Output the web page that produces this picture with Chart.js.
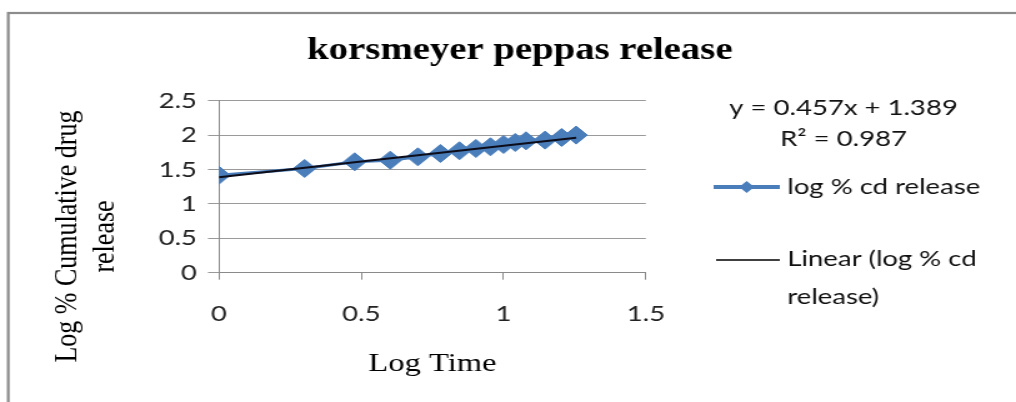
<!DOCTYPE html>
<html>
<head>
<meta charset="utf-8">
<script src="https://cdn.jsdelivr.net/npm/chart.js@4/dist/chart.umd.min.js"></script>
<style>
  html, body { margin: 0; padding: 0; background: #fff; overflow: hidden; }
  #wrap { width: 1016px; height: 402px; overflow: hidden; }
  /* the figure is drawn on a narrower canvas and widened horizontally */
  #c { display: block; transform-origin: 0 0; transform: scaleX(1.2497); }
</style>
</head>
<body>
<div id="wrap"><canvas id="c" width="813" height="402"></canvas></div>
<script>
// log(time) on x, log(% cumulative drug release) on y
const logTime = [0, 0.301, 0.477, 0.602, 0.699, 0.778, 0.845, 0.903, 0.954, 1.0, 1.041, 1.079, 1.146, 1.204, 1.255];
const logRelease = [1.417, 1.515, 1.612, 1.636, 1.684, 1.733, 1.772, 1.806, 1.83, 1.864, 1.893, 1.917, 1.927, 1.966, 2.0];

// axis tick values
const xTicks = [0, 0.5, 1, 1.5];
const yTicks = [0, 0.5, 1, 1.5, 2, 2.5];

// linear trend fitted to the series
const fitSlope = 0.457;
const fitIntercept = 1.389;
const fitR2 = 0.987;

const seriesName = 'log % cd release';
const trendName = ['Linear (log % cd', 'release)'];
const chartTitle = 'korsmeyer peppas release';
const xTitle = 'Log Time';
const yTitle = ['Log % Cumulative drug', 'release'];

const BLUE = '#4A7EBB';
const GRID = '#9a9a9a';
const AXIS = '#8a8a8a';
const SANS = 'Lato, "Open Sans", sans-serif';
const SERIF = '"Liberation Serif", "DejaVu Serif", serif';

const seriesPoints = logTime.map((x, i) => ({ x: x, y: logRelease[i] }));
const trendX = [logTime[0], logTime[logTime.length - 1]];
const trendPoints = trendX.map(x => ({ x: x, y: fitIntercept + fitSlope * x }));

// frame, y axis title, fit equation and legend
const extras = {
  id: 'extras',
  beforeDraw(chart) {
    const ctx = chart.ctx;
    ctx.save();
    ctx.fillStyle = '#fff';
    ctx.fillRect(0, 0, chart.width, chart.height);
    ctx.restore();
  },
  afterDraw(chart) {
    const ctx = chart.ctx;
    ctx.save();

    // outer frame
    ctx.strokeStyle = '#8c8c8c';
    ctx.lineWidth = 2.2;
    ctx.strokeRect(6.6, 13, chart.width + 20, chart.height + 20);

    // y axis title, two rotated lines
    ctx.fillStyle = '#000';
    ctx.font = '26px ' + SERIF;
    ctx.textAlign = 'center';
    ctx.textBaseline = 'middle';
    const yMid = 236.5;
    [54.5, 84.5].forEach((x, i) => {
      ctx.save();
      ctx.translate(x, yMid);
      ctx.rotate(-Math.PI / 2);
      ctx.fillText(yTitle[i], 0, 0);
      ctx.restore();
    });

    // fit equation
    ctx.font = '22px ' + SANS;
    ctx.fillStyle = '#111';
    ctx.textAlign = 'center';
    const sign = fitIntercept >= 0 ? '+ ' : '- ';
    ctx.fillText('y = ' + fitSlope.toFixed(3) + 'x ' + sign + Math.abs(fitIntercept).toFixed(3), 675, 108);
    ctx.fillText('R\u00B2 = ' + fitR2.toFixed(3), 675, 139);

    // legend: data series
    const lx0 = 571, lx1 = 624, ly1 = 187;
    ctx.strokeStyle = BLUE;
    ctx.lineWidth = 4;
    ctx.beginPath();
    ctx.moveTo(lx0, ly1);
    ctx.lineTo(lx1, ly1);
    ctx.stroke();
    ctx.fillStyle = BLUE;
    ctx.beginPath();
    const cx = (lx0 + lx1) / 2, r = 6;
    ctx.moveTo(cx - r, ly1);
    ctx.lineTo(cx, ly1 - r);
    ctx.lineTo(cx + r, ly1);
    ctx.lineTo(cx, ly1 + r);
    ctx.closePath();
    ctx.fill();
    ctx.fillStyle = '#111';
    ctx.textAlign = 'left';
    ctx.fillText(seriesName, 630, ly1);

    // legend: trend line
    const ly2 = 259;
    ctx.strokeStyle = '#000';
    ctx.lineWidth = 1.5;
    ctx.beginPath();
    ctx.moveTo(573, ly2 + 1);
    ctx.lineTo(lx1, ly2 + 1);
    ctx.stroke();
    ctx.fillText(trendName[0], 630, ly2);
    ctx.fillText(trendName[1], 630, ly2 + 38);

    ctx.restore();
  }
};

const plainNumber = v => String(v);

new Chart(document.getElementById('c'), {
  type: 'line',
  data: {
    datasets: [
      {
        label: 'Linear (' + seriesName + ')',
        data: trendPoints,
        borderColor: '#0d0d1a',
        borderWidth: 2,
        pointRadius: 0,
        fill: false,
        order: 0
      },
      {
        label: seriesName,
        data: seriesPoints,
        borderColor: BLUE,
        backgroundColor: BLUE,
        borderWidth: 3,
        pointStyle: 'rectRot',
        pointRadius: 9,
        pointBorderWidth: 1,
        pointBorderColor: BLUE,
        pointBackgroundColor: BLUE,
        fill: false,
        order: 1
      }
    ]
  },
  options: {
    responsive: false,
    animation: false,
    devicePixelRatio: 1,
    layout: { padding: { left: 19, right: 0, top: 0, bottom: 0 } },
    plugins: {
      legend: { display: false },
      tooltip: { enabled: false },
      title: {
        display: true,
        text: chartTitle,
        color: '#000',
        font: { family: SERIF, size: 31, weight: 'bold', lineHeight: 1.2 },
        padding: { top: 32, bottom: 31.5 }
      }
    },
    scales: {
      x: {
        type: 'linear',
        min: 0,
        max: 1.5,
        afterBuildTicks(scale) { scale.ticks = xTicks.map(v => ({ value: v })); },
        afterFit(scale) { scale.height = 129.3; },
        grid: { display: true, drawOnChartArea: false, drawTicks: true, tickLength: 7, color: AXIS, lineWidth: 1 },
        border: { display: true, color: AXIS, width: 1 },
        ticks: { color: '#222', font: { family: SANS, size: 22 }, padding: 21, maxRotation: 0, callback: plainNumber },
        title: {
          display: true,
          text: xTitle,
          color: '#000',
          font: { family: SERIF, size: 26, lineHeight: 1.2 },
          padding: { top: 0, bottom: 22 }
        }
      },
      y: {
        type: 'linear',
        min: 0,
        max: 2.5,
        afterBuildTicks(scale) { scale.ticks = yTicks.map(v => ({ value: v })); },
        afterFit(scale) { scale.width = 156.2; },
        grid: { display: true, drawOnChartArea: true, drawTicks: true, tickLength: 8.8, color: GRID, lineWidth: 1 },
        border: { display: true, color: AXIS, width: 1 },
        ticks: { color: '#222', font: { family: SANS, size: 22 }, padding: 8.8, callback: plainNumber }
      },
      // empty right-hand box that reserves room for the legend and equation
      side: {
        type: 'linear',
        position: 'right',
        display: true,
        afterFit(scale) { scale.width = 296.2; },
        grid: { display: false, drawTicks: false },
        border: { display: false },
        ticks: { display: false }
      }
    }
  },
  plugins: [extras]
});
</script>
</body>
</html>
